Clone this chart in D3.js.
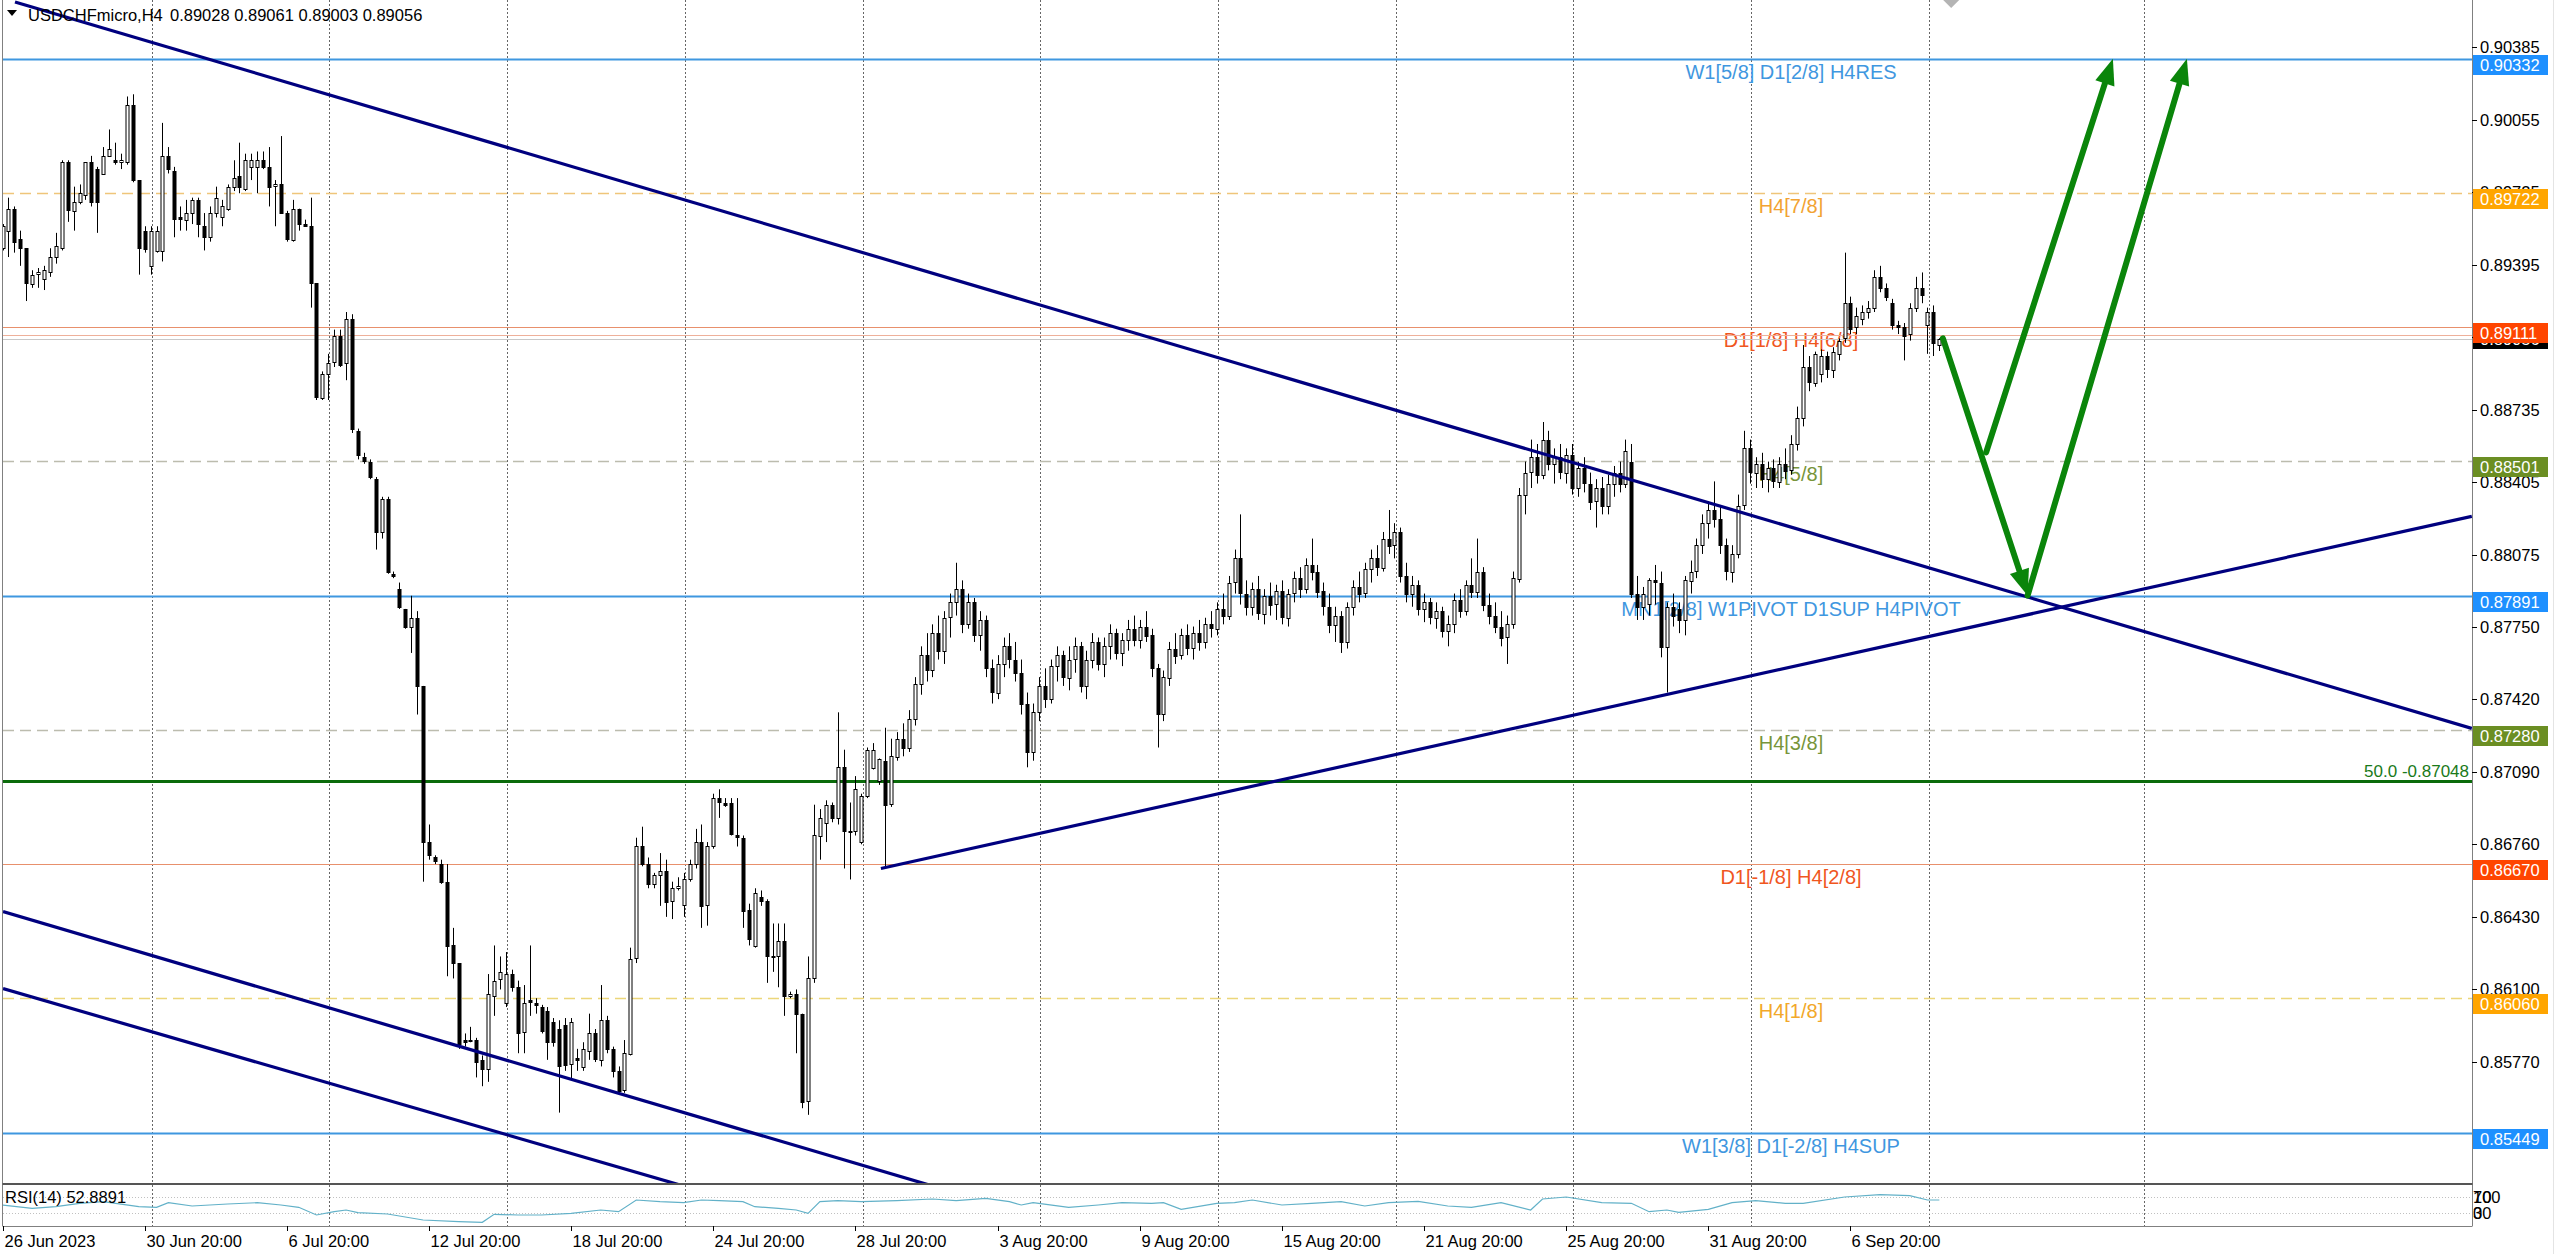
<!DOCTYPE html>
<html><head><meta charset="utf-8">
<script src="https://cdn.jsdelivr.net/npm/d3@7"></script>
<style>html,body{margin:0;padding:0;background:#fff;overflow:hidden}
svg text{font-family:"Liberation Sans",Arial,sans-serif}</style>
</head><body><svg id="c" width="2560" height="1254"></svg>
<script>
// ---------------- DATA ----------------
const symbolName = "USDCHFmicro,H4";
const headerOHLC = "0.89028 0.89061 0.89003 0.89056";
const timeLabels = ["26 Jun 2023","30 Jun 20:00","6 Jul 20:00","12 Jul 20:00","18 Jul 20:00","24 Jul 20:00","28 Jul 20:00","3 Aug 20:00","9 Aug 20:00","15 Aug 20:00","21 Aug 20:00","25 Aug 20:00","31 Aug 20:00","6 Sep 20:00"];
const timeLabelBars = [0,24,48,72,96,120,144,168,192,216,240,264,288,312];
const weekGridBars = [25.2,55.2,85.2,115.2,145.2,175.2,205.2,235.2,265.2,295.2,325.2,361.5];
const priceTicks = [0.90385,0.90055,0.89725,0.89395,0.89065,0.88735,0.88405,0.88075,0.87750,0.87420,0.87090,0.86760,0.86430,0.86100,0.85770];

// candles [open, high, low, close], bar 0 = 26 Jun 20:00
const candles = [
[.8947,.8958,.8946,.8957],[.8955,.8970,.8943,.8965],[.8965,.8966,.8945,.8950],[.8951,.8955,.8939,.8947],[.8947,.8947,.8923,.8931],
[.8931,.8937,.8929,.8935],[.8935,.8938,.8929,.8936],[.8933,.8939,.8928,.8937],[.8936,.8947,.8934,.8943],[.8943,.8954,.8940,.8948],
[.8947,.8987,.8946,.8986],[.8986,.8987,.8959,.8964],[.8964,.8975,.8955,.8968],[.8968,.8976,.8967,.8972],[.8971,.8986,.8969,.8986],
[.8986,.8989,.8966,.8968],[.8983,.8984,.8954,.8968],[.8981,.8993,.8981,.8989],[.8989,.9001,.8989,.8992],[.8987,.8995,.8985,.8986],
[.8986,.8990,.8983,.8987],[.8986,.9016,.8985,.9012],[.9012,.9017,.8977,.8978],[.8978,.8978,.8935,.8947],[.8955,.8957,.8945,.8947],
[.8939,.8957,.8935,.8955],[.8946,.8957,.8945,.8955],[.8946,.9004,.8941,.8989],[.8989,.8993,.8981,.8983],[.8982,.8984,.8952,.8960],
[.8961,.8966,.8955,.8960],[.8960,.8969,.8955,.8963],[.8963,.8970,.8958,.8969],[.8969,.8970,.8952,.8958],[.8957,.8963,.8946,.8952],
[.8952,.8966,.8950,.8963],[.8963,.8975,.8961,.8970],[.8961,.8969,.8957,.8966],[.8965,.8976,.8964,.8975],[.8975,.8987,.8973,.8979],
[.8980,.8995,.8972,.8975],[.8974,.8990,.8973,.8987],[.8984,.8990,.8978,.8987],[.8984,.8991,.8972,.8987],[.8987,.8991,.8983,.8984],
[.8984,.8993,.8966,.8975],[.8975,.8978,.8957,.8976],[.8976,.8998,.8963,.8963],[.8963,.8964,.8950,.8951],[.8951,.8969,.8950,.8965],
[.8965,.8965,.8955,.8958],[.8958,.8960,.8957,.8957],[.8957,.8970,.8920,.8931],[.8931,.8931,.8878,.8879],[.8879,.8891,.8878,.8890],
[.8890,.8899,.8878,.8895],[.8895,.8910,.8893,.8907],[.8907,.8910,.8893,.8894],[.8895,.8918,.8887,.8915],[.8915,.8917,.8863,.8865],
[.8864,.8865,.8851,.8853],[.8852,.8854,.8849,.8850],[.8850,.8851,.8842,.8843],[.8842,.8843,.8810,.8818],[.8818,.8834,.8815,.8833],
[.8833,.8834,.8799,.8800],[.8799,.8800,.8797,.8798],[.8792,.8795,.8783,.8784],[.8783,.8783,.8774,.8775],[.8775,.8789,.8763,.8779],
[.8779,.8782,.8735,.8748],[.8748,.8748,.8659,.8677],[.8677,.8685,.8669,.8671],[.8670,.8671,.8667,.8668],[.8667,.8669,.8658,.8659],
[.8659,.8667,.8616,.8630],[.8630,.8638,.8615,.8622],[.8622,.8622,.8583,.8585],[.8587,.8590,.8584,.8586],[.8587,.8593,.8586,.8587],
[.8587,.8588,.8570,.8577],[.8578,.8580,.8566,.8574],[.8574,.8617,.8568,.8608],[.8607,.8630,.8598,.8614],[.8615,.8625,.8610,.8618],
[.8604,.8627,.8602,.8617],[.8617,.8619,.8609,.8611],[.8611,.8614,.8581,.8590],[.8591,.8612,.8581,.8604],[.8605,.8630,.8598,.8604],
[.8604,.8606,.8599,.8603],[.8602,.8603,.8590,.8591],[.8600,.8602,.8578,.8586],[.8595,.8597,.8584,.8586],[.8592,.8596,.8554,.8575],
[.8594,.8597,.8573,.8576],[.8576,.8597,.8569,.8595],[.8579,.8583,.8573,.8578],[.8575,.8586,.8573,.8583],[.8582,.8599,.8578,.8590],
[.8590,.8592,.8577,.8578],[.8578,.8612,.8575,.8596],[.8596,.8598,.8581,.8583],[.8583,.8584,.8570,.8573],[.8573,.8575,.8562,.8564],
[.8564,.8587,.8563,.8581],[.8581,.8629,.8580,.8624],[.8624,.8679,.8622,.8675],[.8675,.8684,.8666,.8667],[.8667,.8670,.8656,.8658],
[.8658,.8663,.8656,.8662],[.8662,.8672,.8648,.8664],[.8664,.8669,.8643,.8650],[.8650,.8659,.8642,.8656],[.8656,.8661,.8655,.8657],
[.8648,.8663,.8643,.8660],[.8660,.8669,.8659,.8667],[.8667,.8683,.8665,.8677],[.8677,.8685,.8638,.8648],[.8648,.8677,.8639,.8675],
[.8675,.8699,.8674,.8697],[.8697,.8701,.8688,.8695],[.8695,.8697,.8693,.8694],[.8695,.8697,.8680,.8681],[.8680,.8697,.8675,.8679],
[.8679,.8680,.8638,.8646],[.8646,.8649,.8630,.8633],[.8630,.8656,.8629,.8654],[.8652,.8655,.8648,.8650],[.8650,.8651,.8613,.8625],
[.8625,.8640,.8618,.8625],[.8625,.8640,.8611,.8632],[.8632,.8640,.8598,.8607],[.8607,.8609,.8606,.8608],[.8608,.8610,.8581,.8599],
[.8599,.8599,.8556,.8559],[.8559,.8625,.8553,.8615],[.8615,.8694,.8613,.8680],[.8680,.8692,.8669,.8688],[.8686,.8696,.8677,.8694],
[.8694,.8695,.8686,.8688],[.8688,.8736,.8685,.8711],[.8711,.8719,.8665,.8682],[.8682,.8695,.8660,.8682],[.8682,.8707,.8680,.8701],
[.8677,.8699,.8676,.8698],[.8698,.8720,.8697,.8719],[.8711,.8722,.8710,.8719],[.8705,.8715,.8703,.8715],[.8714,.8729,.8666,.8694],
[.8694,.8724,.8693,.8716],[.8716,.8727,.8714,.8724],
[.8724,.8731,.8716,.8720],[.8720,.8737,.8718,.8733],[.8733,.8752,.8730,.8749],[.8749,.8766,.8744,.8762],[.8762,.8772,.8750,.8755],
[.8755,.8776,.8752,.8772],[.8772,.8780,.8760,.8764],[.8764,.8782,.8758,.8779],[.8779,.8790,.8770,.8786],[.8786,.8804,.8780,.8792],
[.8792,.8796,.8772,.8776],[.8776,.8790,.8774,.8786],[.8786,.8788,.8768,.8771],[.8771,.8782,.8764,.8778],[.8778,.8780,.8752,.8756],
[.8756,.8760,.8740,.8745],[.8745,.8762,.8742,.8758],[.8758,.8770,.8752,.8766],[.8766,.8772,.8756,.8760],[.8760,.8768,.8750,.8754],
[.8754,.8760,.8735,.8740],[.8740,.8745,.8711,.8718],[.8718,.8740,.8714,.8736],[.8736,.8752,.8732,.8748],[.8748,.8756,.8738,.8742],
[.8742,.8760,.8740,.8757],[.8757,.8766,.8750,.8762],[.8762,.8764,.8748,.8752],[.8752,.8766,.8746,.8760],[.8760,.8770,.8754,.8766],
[.8766,.8768,.8745,.8748],[.8748,.8764,.8742,.8760],[.8760,.8772,.8756,.8768],[.8768,.8770,.8755,.8758],[.8758,.8770,.8752,.8766],
[.8766,.8776,.8760,.8772],[.8772,.8774,.8760,.8763],[.8763,.8772,.8757,.8769],[.8769,.8778,.8764,.8774],[.8774,.8780,.8766,.8769],
[.8769,.8778,.8765,.8775],[.8775,.8782,.8768,.8771],[.8771,.8774,.8752,.8756],[.8756,.8758,.8720,.8735],[.8735,.8755,.8732,.8752],
[.8752,.8768,.8748,.8765],[.8765,.8772,.8758,.8762],[.8762,.8774,.8760,.8771],[.8771,.8776,.8762,.8765],[.8765,.8775,.8760,.8772],
[.8772,.8778,.8764,.8768],[.8768,.8779,.8765,.8776],[.8776,.8782,.8770,.8774],[.8774,.8786,.8771,.8783],[.8783,.8790,.8776,.8780],
[.8780,.8798,.8778,.8795],[.8795,.8810,.8790,.8806],[.8806,.8826,.8785,.8790],[.8790,.8796,.8780,.8784],[.8784,.8795,.8780,.8792],
[.8792,.8798,.8778,.8781],[.8781,.8792,.8776,.8789],[.8789,.8795,.8780,.8785],[.8785,.8794,.8778,.8791],[.8791,.8796,.8776,.8779],
[.8779,.8792,.8775,.8790],[.8790,.8800,.8786,.8797],[.8797,.8802,.8788,.8792],[.8792,.8806,.8790,.8803],[.8803,.8815,.8796,.8800],
[.8800,.8803,.8788,.8791],[.8791,.8795,.8780,.8784],[.8784,.8790,.8772,.8776],[.8776,.8784,.8768,.8780],[.8780,.8782,.8763,.8768],
[.8768,.8786,.8765,.8784],[.8784,.8796,.8780,.8793],[.8793,.8800,.8786,.8790],[.8790,.8804,.8788,.8801],[.8801,.8810,.8795,.8806],
[.8806,.8812,.8798,.8802],[.8802,.8818,.8800,.8815],[.8815,.8828,.8808,.8812],[.8812,.8822,.8806,.8818],[.8818,.8820,.8795,.8798],
[.8798,.8804,.8786,.8790],[.8790,.8798,.8784,.8794],[.8794,.8796,.8780,.8783],[.8783,.8790,.8777,.8786],[.8786,.8788,.8776,.8779],
[.8779,.8786,.8774,.8782],[.8782,.8784,.8770,.8773],[.8773,.8780,.8766,.8776],[.8776,.8790,.8772,.8787],[.8787,.8792,.8779,.8782],
[.8782,.8796,.8780,.8794],[.8794,.8806,.8788,.8791],[.8791,.8815,.8788,.8800],[.8800,.8802,.8782,.8785],[.8785,.8790,.8776,.8780],
[.8780,.8786,.8772,.8775],[.8775,.8782,.8766,.8770],[.8770,.8780,.8758,.8776],[.8776,.8800,.8774,.8797],[.8797,.8838,.8795,.8835],
[.8835,.8850,.8826,.8845],[.8845,.8860,.8838,.8852],[.8852,.8858,.8840,.8844],[.8844,.8868,.8842,.8860],[.8860,.8864,.8846,.8849],
[.8849,.8856,.8840,.8852],[.8852,.8858,.8842,.8845],[.8845,.8856,.8840,.8853],[.8853,.8858,.8835,.8838],[.8838,.8850,.8834,.8847],
[.8847,.8852,.8836,.8840],[.8840,.8845,.8828,.8832],[.8832,.8842,.8820,.8838],[.8838,.8843,.8826,.8830],[.8830,.8844,.8826,.8840],
[.8840,.8848,.8834,.8845],[.8845,.8850,.8836,.8840],[.8840,.8860,.8838,.8855],[.8850,.8858,.8788,.8790],[.8790,.8798,.8778,.8784],
[.8784,.8793,.8778,.8790],[.8785,.8797,.8780,.8796],[.8796,.8803,.8785,.8795],[.8795,.8800,.8761,.8766],[.8766,.8786,.8745,.8784],
[.8784,.8790,.8775,.8780],[.8783,.8786,.8772,.8778],[.8778,.8798,.8771,.8796],[.8796,.8805,.8790,.8800],[.8800,.8815,.8797,.8812],
[.8812,.8826,.8808,.8822],[.8822,.8832,.8815,.8828],[.8828,.8841,.8820,.8824],[.8824,.8830,.8808,.8812],[.8812,.8815,.8796,.8800],
[.8800,.8812,.8795,.8808],[.8808,.8835,.8806,.8830],[.8830,.8864,.8828,.8856],[.8856,.8860,.8840,.8845],[.8845,.8852,.8838,.8849],
[.8849,.8854,.8838,.8842],[.8842,.8850,.8836,.8847],[.8847,.8851,.8838,.8841],[.8841,.8852,.8838,.8849],[.8849,.8856,.8842,.8846],
[.8846,.8862,.8844,.8858],[.8858,.8875,.8855,.8870],[.8870,.8903,.8866,.8893],[.8893,.8898,.8882,.8886],[.8886,.8900,.8884,.8899],
[.8890,.8901,.8886,.8898],[.8898,.8900,.8888,.8892],[.8892,.8902,.8888,.8900],[.8899,.8906,.8896,.8905],[.8906,.8945,.8904,.8922],
[.8922,.8925,.8908,.8910],[.8911,.8920,.8908,.8916],[.8915,.8921,.8912,.8918],[.8918,.8923,.8915,.8920],[.8920,.8937,.8918,.8934],
[.8934,.8939,.8927,.8929],[.8929,.8931,.8923,.8925],[.8922,.8924,.8910,.8912],[.8912,.8914,.8908,.8911],[.8911,.8913,.8896,.8907],
[.8908,.8922,.8905,.8920],[.8920,.8934,.8918,.8929],[.8929,.8936,.8922,.8926],[.8912,.8920,.8899,.8918],[.8918,.8921,.8898,.8904],
[.89028,.89061,.89003,.89056]
];

// RSI(14) samples (bar index, value)
const rsiBars = [0,5,9,13,17,23,26,28,32,38,43,47,50,53,56,58,60,65,71,77,81,83,87,91,96,101,104,107,111,115,118,121,125,127,131,134,136,138,141,145,151,157,161,166,170,172,174,180,185,189,194,196,199,205,208,211,216,221,226,230,234,239,244,248,253,258,260,264,270,275,278,281,283,288,292,296,301,304,311,317,322,325,327];
const rsiVals = [50,41.7,45.8,54.2,58.3,45.8,44.2,55.8,47.5,52.5,55.8,50,44.2,25,33.3,37.5,30.8,27.5,12.5,8.3,6.7,26.7,25,25,29.2,37.5,33.3,62.5,58.3,55.8,62.5,60.8,58.3,45.8,41.7,37.5,29.2,58.3,60.8,58.3,60.8,65,60.8,66.7,58.3,50,55.8,44.2,50,55.8,54.2,55.8,39.2,54.2,55.8,62.5,50,54.2,58.3,47.5,55.8,59.2,47.5,44.2,55.8,37.5,65,70,55.8,54.2,33.3,37.5,31.7,39.2,55.8,60.8,54.2,54.2,70,75.8,73.3,62.5,62.5,52.89];
const rsiLabel = "RSI(14) 52.8891";

// horizontal levels
const levelPrices = [0.90332,0.89722,0.89111,0.89075,0.88501,0.87891,0.87280,0.87048,0.86670,0.86060,0.85449];
const levelNames  = ["W1[5/8] D1[2/8] H4RES","H4[7/8]","D1[1/8] H4[6/8]","","H4[5/8]","MN1[2/8] W1PIVOT D1SUP H4PIVOT","H4[3/8]","","D1[-1/8] H4[2/8]","H4[1/8]","W1[3/8] D1[-2/8] H4SUP"];
const levelKinds  = ["blue","orange","red","red2","olive","blue","olive","green","red","yellow","blue"];
const fibLabel = "50.0 -0.87048";
const badgePrices = [0.90332,0.89722,0.89111,0.88501,0.87891,0.87280,0.86670,0.86060,0.85449];
const badgeKinds  = ["blue","orange","red","olive","blue","olive","red","orange","blue"];
const bidPrice = 0.89056;

// trend lines [bar, price] pairs
const trendLines = [
  [[2.1,0.90590],[416.9,0.87287]],
  [[0.08,0.86454],[168.4,0.85116]],
  [[0.08,0.86104],[134.6,0.85053]],
  [[148.3,0.86650],[416.9,0.88251]]
];
// forecast arrows [from, to] in [bar, price]
const arrows = [
  [[327.6,0.89060],[341.9,0.87891]],
  [[334.9,0.88542],[356.3,0.90332]],
  [[341.9,0.87891],[368.8,0.90332]]
];
const shiftMarkBar = 329.0;

// ---------------- STYLE ----------------
const lineStyle = {
  blue:{stroke:"#3f97e0",w:2,dash:null,text:"#3f97e0"},
  orange:{stroke:"#efc57a",w:1.5,dash:"11,6",text:"#f2a332"},
  red:{stroke:"#e8906c",w:1.2,dash:null,text:"#f0561e"},
  red2:{stroke:"#eeb09a",w:1.2,dash:null,text:"#f0561e"},
  olive:{stroke:"#bcbcae",w:1.5,dash:"11,6",text:"#78953a"},
  green:{stroke:"#0b6b0b",w:3,dash:null,text:"#1a7a1a"},
  yellow:{stroke:"#ecd67a",w:1.5,dash:"11,6",text:"#f2a82a"}
};
const badgeFill = {blue:"#1e90ff",orange:"#ffa500",red:"#ff4500",olive:"#6b8e23"};

// ---------------- DRAW ----------------
const svg = d3.select("#c");
const plotR = 2472, plotB = 1183, rsiT = 1185, rsiB = 1226;
const x = d3.scaleLinear().domain([0,417]).range([2.55,2472.4]);
const y = d3.scaleLinear().domain([0.905987,0.8522]).range([0,1183]);
const yr = d3.scaleLinear().domain([0,100]).range([1225,1185]);

svg.append("rect").attr("width",2560).attr("height",1254).attr("fill","#fff");
const defs = svg.append("defs");
defs.append("clipPath").attr("id","mainClip").append("rect").attr("x",3).attr("y",0).attr("width",plotR-3).attr("height",plotB);
defs.append("clipPath").attr("id","rsiClip").append("rect").attr("x",3).attr("y",rsiT).attr("width",plotR-3).attr("height",rsiB-rsiT);

// vertical grid
const grid = svg.append("g");
weekGridBars.forEach(b=>{
  const gx = Math.round(x(b))+0.5;
  grid.append("line").attr("x1",gx).attr("x2",gx).attr("y1",0).attr("y2",plotB).attr("stroke","#666").attr("stroke-dasharray","2,2");
  grid.append("line").attr("x1",gx).attr("x2",gx).attr("y1",rsiT).attr("y2",rsiB).attr("stroke","#666").attr("stroke-dasharray","2,2");
});

const main = svg.append("g").attr("clip-path","url(#mainClip)");

// level lines
levelPrices.forEach((p,k)=>{
  const st = lineStyle[levelKinds[k]];
  const ly = Math.round(y(p))+0.5;
  main.append("line").attr("x1",3).attr("x2",plotR).attr("y1",ly).attr("y2",ly)
    .attr("stroke",st.stroke).attr("stroke-width",st.w).attr("stroke-dasharray",st.dash);
  if(levelNames[k]) main.append("text").attr("x",1791).attr("y",ly+19).attr("text-anchor","middle")
    .attr("font-size",20).attr("fill",st.text).text(levelNames[k]);
});
// bid line
main.append("line").attr("x1",3).attr("x2",plotR).attr("y1",Math.round(y(bidPrice))+0.5).attr("y2",Math.round(y(bidPrice))+0.5).attr("stroke","#c8c8c8");
// fibo label
main.append("text").attr("x",2469).attr("y",y(levelPrices[7])-4).attr("text-anchor","end").attr("font-size",17).attr("fill",lineStyle.green.text).text(fibLabel);

// candles
const bars = candles.map((c,i)=>({i,o:c[0],h:c[1],l:c[2],c:c[3]}));
const cg = main.append("g");
bars.forEach(d=>{
  const cx = Math.round(x(d.i));
  cg.append("line").attr("x1",cx+0.5).attr("x2",cx+0.5).attr("y1",y(d.h)).attr("y2",y(d.l)).attr("stroke","#000").attr("stroke-width",1);
  const top = y(Math.max(d.o,d.c)), bot = y(Math.min(d.o,d.c));
  cg.append("rect").attr("x",cx-1).attr("y",Math.round(top)+0.5).attr("width",3).attr("height",Math.max(1,Math.round(bot-top)))
    .attr("fill",d.c>=d.o?"#fff":"#000").attr("stroke","#000").attr("stroke-width",1);
});

// trend lines
trendLines.forEach(t=>{
  main.append("line").attr("x1",x(t[0][0])).attr("y1",y(t[0][1])).attr("x2",x(t[1][0])).attr("y2",y(t[1][1]))
    .attr("stroke","#00007f").attr("stroke-width",3.2);
});
// arrows
const green = "#0a850a";
arrows.forEach(a=>{
  const x1=x(a[0][0]),y1=y(a[0][1]),x2=x(a[1][0]),y2=y(a[1][1]);
  const ang = Math.atan2(y2-y1,x2-x1), L=26, Wd=10;
  const bx = x2-L*Math.cos(ang), by = y2-L*Math.sin(ang);
  main.append("line").attr("x1",x1).attr("y1",y1).attr("x2",bx).attr("y2",by).attr("stroke",green).attr("stroke-width",6).attr("stroke-linecap","round");
  const px = -Math.sin(ang)*Wd, py = Math.cos(ang)*Wd;
  main.append("path").attr("d",`M${x2},${y2}L${bx+px},${by+py}L${bx-px},${by-py}Z`).attr("fill",green);
});
// shift marker
svg.append("path").attr("d",`M${x(shiftMarkBar)-8},0L${x(shiftMarkBar)+8},0L${x(shiftMarkBar)},8Z`).attr("fill","#b4b4b4");

// frames
svg.append("line").attr("x1",2.5).attr("x2",2.5).attr("y1",0).attr("y2",rsiB).attr("stroke","#808080");
svg.append("line").attr("x1",plotR+0.5).attr("x2",plotR+0.5).attr("y1",0).attr("y2",rsiB).attr("stroke","#808080");
svg.append("rect").attr("x",2.5).attr("y",plotB).attr("width",plotR-2).attr("height",2).attr("fill","#555");
svg.append("line").attr("x1",2.5).attr("x2",plotR+0.5).attr("y1",rsiB+0.5).attr("y2",rsiB+0.5).attr("stroke","#808080");
svg.append("line").attr("x1",2553.5).attr("x2",2553.5).attr("y1",0).attr("y2",1254).attr("stroke","#e4e4e4");

// RSI panel
const rg = svg.append("g").attr("clip-path","url(#rsiClip)");
[70,30].forEach(v=>rg.append("line").attr("x1",3).attr("x2",plotR).attr("y1",Math.round(yr(v))+0.5).attr("y2",Math.round(yr(v))+0.5).attr("stroke","#c0c0c0").attr("stroke-dasharray","1,2"));
rg.append("path").datum(rsiBars.map((b,k)=>[b,rsiVals[k]]))
  .attr("d",d3.line().x(d=>x(d[0])).y(d=>yr(d[1]))).attr("fill","none").attr("stroke","#62b1c8").attr("stroke-width",1.2);
svg.append("text").attr("x",5).attr("y",1203).attr("font-size",16.5).attr("fill","#000").text(rsiLabel);
[["100",100],["70",70],["30",30],["0",0]].forEach(([t,v])=>{
  const ty = v>=70? 1203: 1219;
  svg.append("text").attr("x",2473).attr("y",ty).attr("font-size",16.5).attr("fill","#000").text(t);
});

// price axis
const pa = svg.append("g");
priceTicks.forEach(t=>{
  const ty = Math.round(y(t))+0.5;
  pa.append("line").attr("x1",plotR).attr("x2",plotR+5).attr("y1",ty).attr("y2",ty).attr("stroke","#000");
  pa.append("text").attr("x",2480).attr("y",ty).attr("dy","0.36em").attr("font-size",16.5).attr("fill","#000").text(t.toFixed(5));
});
function badge(p,fill,off){
  const by = Math.round(y(p));
  pa.append("rect").attr("x",plotR+1).attr("y",by-off).attr("width",75).attr("height",20).attr("fill",fill);
  pa.append("text").attr("x",2480).attr("y",by-off+10).attr("dy","0.36em").attr("font-size",16.5).attr("fill","#fff").text(p.toFixed(5));
}
badge(bidPrice,"#000",10);
badgePrices.forEach((p,k)=>badge(p,badgeFill[badgeKinds[k]],4));

// time axis
const ta = svg.append("g");
timeLabelBars.forEach((b,k)=>{
  const tx = Math.round(x(b))+0.5;
  ta.append("line").attr("x1",tx).attr("x2",tx).attr("y1",rsiB).attr("y2",rsiB+5).attr("stroke","#000");
  ta.append("text").attr("x",tx+1).attr("y",1247).attr("font-size",16.5).attr("fill","#000").text(timeLabels[k]);
});

// header
svg.append("path").attr("d","M7,10L17,10L12,16Z").attr("fill","#000");
svg.append("text").attr("x",28).attr("y",21).attr("font-size",16.5).attr("fill","#000").text(symbolName);
svg.append("text").attr("x",170).attr("y",21).attr("font-size",16.5).attr("fill","#000").text(headerOHLC);
</script></body></html>
